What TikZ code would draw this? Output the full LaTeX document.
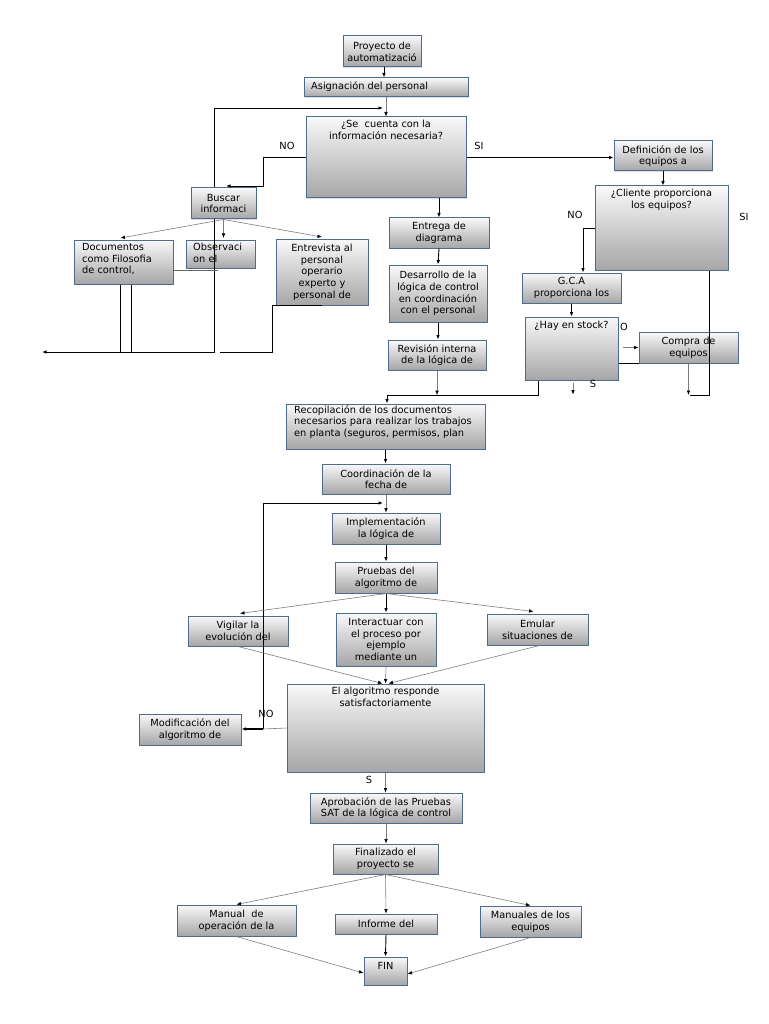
\documentclass[tikz,border=0pt]{standalone}
\usepackage{fontspec}
\setmainfont{DejaVu Sans}
\usetikzlibrary{arrows.meta,shadows}
\definecolor{bord}{RGB}{78,108,142}
\definecolor{lgray}{RGB}{125,125,125}
\newcommand\dfont{\fontsize{9.8}{11.7}\selectfont}
\newcommand\bx[5]{\node[box,minimum width=#3pt,minimum height=#4pt] (#1) at (#2) {#5};}
\tikzset{
  box/.style={draw=bord, line width=1pt, top color=gray!5, bottom color=gray!70, inner sep=1pt, font=\dfont, align=center, drop shadow={opacity=0.25, shadow xshift=1pt, shadow yshift=-1pt}},
  txt/.style={font=\dfont, inner sep=0pt, align=center},
  ltxt/.style={font=\dfont, inner sep=0pt, align=left},
  lbl/.style={font=\dfont, inner sep=0pt},
  arr/.style={-{Latex[length=4.5pt,width=3.6pt,color=black]}},
  blk/.style={draw=black, line width=0.9pt},
  gln/.style={draw=lgray, line width=0.6pt},
}
\begin{document}
\begin{tikzpicture}[x=1pt,y=-1pt]
\useasboundingbox (0,0) rectangle (768,1024);
% boxes
\bx{proy}{382,51.5}{78}{31}{Proyecto de\\automatizació}
\bx{asig}{386,87.5}{164}{19}{}
\node[txt,anchor=west] (tasig) at (311,87) {Asignación del personal};
\bx{secuenta}{386,157.5}{160}{81}{}
\node[txt,anchor=north] (tsecuenta) at (386,120) {¿Se\ \ cuenta con la\\información necesaria?};
\bx{defin}{663,156}{98}{30}{Definición de los\\equipos a}
\bx{cliente}{661.5,228}{133}{84}{}
\node[txt,anchor=north] (tcliente) at (661.5,189) {¿Cliente proporciona\\los equipos?};
\bx{buscar}{223.5,203.5}{65}{31}{Buscar\\informaci}
\bx{entrega}{439,233}{100}{30}{Entrega de\\diagrama}
\bx{docs}{123.5,262}{99}{44}{}
\node[ltxt,anchor=north west] (tdocs) at (82,243) {Documentos\\como Filosofia\\de control,};
\bx{obs}{220.5,254}{69}{28}{}
\node[ltxt,anchor=north west] (tobs) at (193,243) {Observaci\\on el};
\bx{entrev}{322,272}{92}{66}{Entrevista al\\personal\\operario\\experto y\\personal de}
\bx{desarr}{438,293.5}{98}{57}{Desarrollo de la\\lógica de control\\en coordinación\\con el personal}
\bx{gca}{571.5,288}{99}{30}{G.C.A\\proporciona los}
\bx{stock}{571.5,348.5}{93}{63}{}
\node[txt,anchor=north] (tstock) at (571.5,321) {¿Hay en stock?};
\bx{compra}{688.5,347.5}{99}{31}{Compra de\\equipos}
\bx{revis}{437,355}{98}{30}{Revisión interna\\de la lógica de}
\bx{recop}{385.5,426.5}{199}{45}{}
\node[ltxt,anchor=north west] (trecop) at (294,405) {Recopilación de los documentos\\necesarios para realizar los trabajos\\en planta (seguros, permisos, plan};
\bx{coord}{386,479}{128}{30}{Coordinación de la\\fecha de}
\bx{impl}{386,528.5}{108}{31}{Implementación\\la lógica de}
\bx{prueb}{386,577.5}{102}{31}{Pruebas del\\algoritmo de}
\bx{vigil}{238,631}{100}{30}{Vigilar la\\evolución del}
\bx{inter}{386,639.5}{100}{53}{Interactuar con\\el proceso por\\ejemplo\\mediante un}
\bx{emul}{537.5,629.5}{101}{31}{Emular\\situaciones de}
\bx{algo}{385.5,728}{197}{88}{}
\node[txt,anchor=north] (talgo) at (385.5,687) {El algoritmo responde\\satisfactoriamente};
\bx{modif}{190,729.5}{102}{31}{Modificación del\\algoritmo de}
\bx{aprob}{386,808}{152}{30}{Aprobación de las Pruebas\\SAT de la lógica de control}
\bx{final}{385.5,859}{105}{30}{Finalizado el\\proyecto se}
\bx{manual}{236.5,920.5}{119}{31}{Manual\ \ de\\operación de la}
\bx{informe}{386,924}{102}{20}{Informe del}
\bx{manuales}{530.5,921.5}{101}{31}{Manuales de los\\equipos}
\bx{fin}{385.5,971}{43}{28}{}
\node[txt,anchor=north] (tfin) at (385.5,962) {FIN};
% coordinates
\coordinate (j1) at (383,108);
\coordinate (k1) at (263,186);
\coordinate (k2) at (226,186);
\coordinate (j2) at (437,395);
\coordinate (j3) at (387,395);
\coordinate (j4) at (690,395);
\coordinate (L) at (42,352);
\coordinate (L2) at (220,352);
\coordinate (m1) at (263,729);
\coordinate (j5) at (383,503);
% connectors top
\draw[blk,arr] ([xshift=2pt]proy.south) -- ([xshift=-2pt]asig.north);
\draw[gln,arr] (asig.south) -- (secuenta.north);
\draw[blk,arr] ([xshift=-9.5pt]buscar.north) |- (j1);
\draw[blk,arr] (secuenta.west) -| (k1) -- (k2);
\draw[blk,arr] (secuenta.east) -- (secuenta.east -| defin.west);
\draw[blk,arr] (entrega.north |- secuenta.south) -- (entrega.north);
\draw[blk,arr] (entrega.south) -- (desarr.north);
\draw[blk,arr] (desarr.south) -- (desarr.south |- revis.north);
\draw[gln,arr] (revis.south) -- (j2);
\draw[blk,arr] ([xshift=14pt]stock.south west) |- (j3) -- (j3 |- recop.north);
\draw[blk,arr] (defin.south) -- (defin.south |- cliente.north);
\draw[blk,arr] (cliente.west) -| ([xshift=11.5pt]gca.north);
\draw[blk] ([xshift=-19pt]cliente.south east) |- (j4);
\draw[gln,arr] (compra.south) -- (compra.south |- j4);
\draw[blk,arr] (gca.south) -- (stock.north);
\draw[gln,arr] ([xshift=4pt]stock.east |- compra.west) -- (compra.west);
\draw[blk] (stock.east |- compra.south west) -- (compra.south west);
\draw[gln,arr] ([xshift=1.5pt,yshift=-2pt]stock.south) -- ++(0,12);
% left branch
\draw[gln,arr] (buscar.south) -- ([xshift=-3pt,yshift=1.5pt]docs.north);
\draw[gln,arr] (buscar.south) -- ([yshift=1.5pt]buscar.south |- obs.north);
\draw[gln,arr] (buscar.south) -- ([yshift=1.5pt]entrev.north);
\draw[blk,arr] ([xshift=-9.5pt]buscar.south) |- (L);
\draw[blk] ([xshift=-3.5pt]docs.south) -- ([xshift=-3.5pt]docs.south |- L);
\draw[blk] ([xshift=7.5pt]docs.south) -- ([xshift=7.5pt]docs.south |- L);
\draw[draw=gray!80!black,line width=0.9pt] ([yshift=-8pt]docs.east) -- ++(44,0);
\draw[blk] (entrev.south) -| (L2 -| 272,0) -- (L2);
% middle
\draw[blk,arr] (recop.south) -- (recop.south |- coord.north);
\draw[gln,arr] (coord.south) -- (impl.north);
\draw[blk,arr] (m1) |- (j5);
\draw[gln] (algo.west) -- (m1);
\draw[blk,line width=1.2pt,arr] (m1) -- (m1 -| modif.east);
\draw[blk,arr] (impl.south) -- (prueb.north);
\draw[gln,arr] (prueb.south) -- ([xshift=2pt,yshift=2pt]vigil.north);
\draw[blk,arr] (prueb.south) -- (inter.north);
\draw[gln,arr] (prueb.south) -- ([xshift=-4pt,yshift=2pt]emul.north);
\draw[gln,arr] (vigil.south) -- ([xshift=-3pt]algo.north);
\draw[gln,arr] (inter.south) -- (algo.north);
\draw[gln,arr] ([xshift=2pt]emul.south) -- ([xshift=3pt]algo.north);
\draw[gln,arr] (algo.south) -- (algo.south |- aprob.north);
\draw[gln,arr] (aprob.south) -- (aprob.south |- final.north);
% bottom
\draw[gln,arr] (final.south) -- (manual.north);
\draw[gln,arr] (final.south) -- (informe.north);
\draw[gln,arr] (final.south) -- (manuales.north);
\draw[gln,arr] (manual.south) -- ([yshift=-2pt]fin.west);
\draw[blk,arr] (informe.south) -- (fin.north);
\draw[gln,arr] (manuales.south) -- ([yshift=-3pt]fin.east);
% labels
\node[lbl] (lno1) at (287,146) {NO};
\node[lbl] (lsi1) at (479,146) {SI};
\node[lbl] (lno2) at (575,215) {NO};
\node[lbl] (lsi2) at (744,217) {SI};
\node[lbl] (lo) at (624,327) {O};
\node[lbl] (ls1) at (593,384) {S};
\node[lbl] (lno3) at (266,714) {NO};
\node[lbl] (ls2) at (369,780) {S};
\end{tikzpicture}
\end{document}
